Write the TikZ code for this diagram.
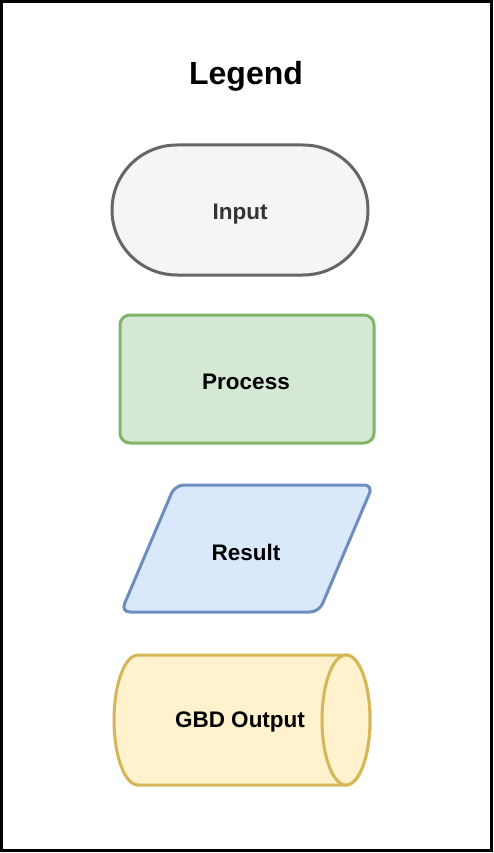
\documentclass[tikz,border=0pt]{standalone}
\usepackage{fontspec}
\setmainfont{Liberation Sans}
\definecolor{inFill}{HTML}{F5F5F5}
\definecolor{inDraw}{HTML}{666666}
\definecolor{inText}{HTML}{333333}
\definecolor{prFill}{HTML}{D5E8D4}
\definecolor{prDraw}{HTML}{82B366}
\definecolor{reFill}{HTML}{DAE8FC}
\definecolor{reDraw}{HTML}{6C8EBF}
\definecolor{ouFill}{HTML}{FFF2CC}
\definecolor{ouDraw}{HTML}{D6B656}
\begin{document}
\begin{tikzpicture}[x=1pt,y=-1pt,
  shapeline/.style={line width=3pt},
  lbl/.style={font=\fontsize{22.5}{26}\selectfont\bfseries, inner sep=0pt}]
\useasboundingbox (0,0) rectangle (494,853);
\fill[white] (0,0) rectangle (494,853);
\draw[line width=3pt, black] (1.5,1.5) rectangle (491.5,850.5);
\node[font=\fontsize{32}{38}\selectfont\bfseries, inner sep=0pt] (title) at (246,76) {Legend};
% Input (terminator)
\draw[shapeline, draw=inDraw, fill=inFill, rounded corners=64.9pt] (112,145) rectangle (368,275);
\node[lbl, text=inText] (input) at (240,214) {Input};
% Process
\draw[shapeline, draw=prDraw, fill=prFill, rounded corners=10pt] (120,315) rectangle (374,443);
\node[lbl] (process) at (246,382) {Process};
% Result (parallelogram)
\draw[shapeline, draw=reDraw, fill=reFill, rounded corners=9pt] (175,485) -- (373,485) -- (319,612) -- (121,612) -- cycle;
\node[lbl] (result) at (246,552) {Result};
% GBD Output (cylinder)
\draw[shapeline, draw=ouDraw, fill=ouFill] (138,655) arc[start angle=270, end angle=90, x radius=24, y radius=65] -- (346,785) arc[start angle=90, end angle=-90, x radius=24, y radius=65] -- cycle;
\draw[shapeline, draw=ouDraw, fill=ouFill] (346,720) ellipse[x radius=24, y radius=65];
\node[lbl] (output) at (240,722) {GBD Output};
\end{tikzpicture}
\end{document}
